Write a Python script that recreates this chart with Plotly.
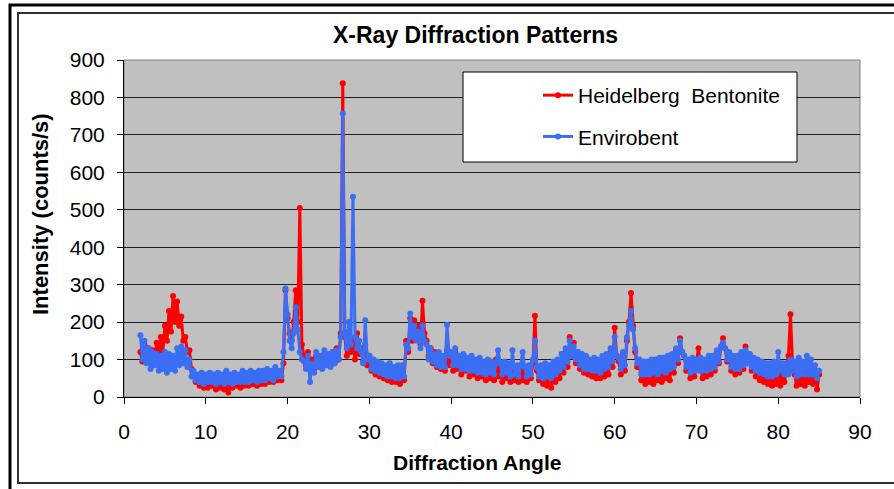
import plotly.graph_objects as go

# Diffraction angle grid: first angle and spacing (degrees)
ANGLE_START = 2.0
ANGLE_STEP = 0.25

# Heidelberg Bentonite intensities (counts/s), 4 readings per degree, 2.0 .. 85.0
heidelberg = [
    120, 95, 140, 105,    # 2
    130, 90, 125, 100,    # 3
    145, 110, 160, 120,   # 4
    190, 150, 230, 175,   # 5
    270, 200, 255, 190,   # 6
    215, 150, 160, 120,   # 7
    125, 75, 60, 40,      # 8
    45, 30, 50, 25,       # 9
    40, 25, 45, 30,       # 10
    40, 20, 45, 25,       # 11
    35, 20, 40, 12,       # 12
    40, 25, 45, 30,       # 13
    40, 25, 50, 30,       # 14
    45, 30, 50, 35,       # 15
    50, 30, 55, 35,       # 16
    50, 35, 60, 40,       # 17
    55, 40, 65, 45,       # 18
    50, 45, 90, 285,      # 19
    210, 170, 150, 200,   # 20
    285, 200, 505, 140,   # 21
    110, 85, 120, 90,     # 22
    100, 75, 110, 80,     # 23
    105, 80, 115, 85,     # 24
    110, 85, 120, 90,     # 25
    130, 100, 170, 838,   # 26
    160, 110, 175, 120,   # 27
    150, 100, 170, 115,   # 28
    130, 95, 140, 85,     # 29
    110, 70, 95, 60,      # 30
    90, 55, 85, 50,       # 31
    75, 45, 80, 40,       # 32
    70, 40, 75, 35,       # 33
    80, 45, 150, 120,     # 34
    210, 150, 205, 160,   # 35
    190, 140, 257, 170,   # 36
    150, 110, 130, 90,    # 37
    120, 80, 110, 75,     # 38
    105, 70, 125, 85,     # 39
    110, 70, 120, 75,     # 40
    100, 60, 110, 70,     # 41
    95, 55, 105, 60,      # 42
    90, 50, 95, 55,       # 43
    85, 45, 90, 50,       # 44
    85, 45, 100, 55,      # 45
    80, 40, 90, 50,       # 46
    80, 40, 85, 45,       # 47
    80, 40, 85, 45,       # 48
    75, 40, 80, 50,       # 49
    90, 217, 70, 45,      # 50
    75, 35, 80, 30,       # 51
    70, 25, 75, 40,       # 52
    85, 50, 100, 65,      # 53
    120, 80, 160, 110,    # 54
    145, 90, 120, 75,     # 55
    110, 65, 100, 60,     # 56
    95, 55, 90, 50,       # 57
    90, 50, 100, 55,      # 58
    100, 60, 120, 80,     # 59
    185, 110, 95, 60,     # 60
    110, 70, 150, 200,    # 61
    278, 190, 120, 80,    # 62
    90, 45, 80, 35,       # 63
    85, 40, 80, 35,       # 64
    90, 45, 85, 40,       # 65
    95, 50, 90, 45,       # 66
    110, 65, 125, 90,     # 67
    157, 120, 110, 70,    # 68
    90, 50, 95, 55,       # 69
    95, 130, 80, 50,      # 70
    90, 55, 95, 60,       # 71
    105, 70, 120, 90,     # 72
    135, 157, 130, 95,    # 73
    110, 70, 100, 60,     # 74
    105, 65, 115, 75,     # 75
    135, 90, 115, 70,     # 76
    100, 55, 90, 45,      # 77
    80, 40, 75, 35,       # 78
    70, 30, 75, 35,       # 79
    70, 30, 65, 40,       # 80
    70, 110, 221, 90,     # 81
    60, 30, 75, 35,       # 82
    70, 30, 80, 40,       # 83
    75, 35, 70, 20,       # 84
    60,                   # 85
]

# Envirobent intensities (counts/s), 4 readings per degree, 2.0 .. 85.0
envirobent = [
    165, 100, 150, 90,    # 2
    130, 75, 120, 85,     # 3
    115, 70, 110, 75,     # 4
    120, 65, 115, 75,     # 5
    110, 70, 130, 85,     # 6
    135, 90, 125, 80,     # 7
    100, 55, 70, 45,      # 8
    60, 40, 65, 35,       # 9
    60, 40, 65, 40,       # 10
    60, 35, 65, 40,       # 11
    60, 35, 70, 40,       # 12
    60, 35, 65, 40,       # 13
    60, 40, 70, 40,       # 14
    65, 40, 70, 45,       # 15
    65, 40, 70, 45,       # 16
    70, 45, 75, 50,       # 17
    70, 45, 80, 55,       # 18
    70, 55, 120, 290,     # 19
    220, 150, 130, 170,   # 20
    240, 180, 120, 100,   # 21
    95, 75, 110, 40,      # 22
    90, 65, 120, 80,      # 23
    110, 75, 125, 85,     # 24
    115, 80, 120, 90,     # 25
    125, 100, 160, 757,   # 26
    170, 130, 200, 140,   # 27
    535, 160, 130, 150,   # 28
    120, 90, 205, 100,    # 29
    110, 75, 100, 70,     # 30
    95, 65, 90, 60,       # 31
    85, 55, 90, 55,       # 32
    80, 50, 85, 50,       # 33
    85, 55, 140, 130,     # 34
    223, 160, 190, 150,   # 35
    175, 130, 190, 150,   # 36
    140, 100, 130, 95,    # 37
    115, 85, 120, 80,     # 38
    110, 80, 192, 110,    # 39
    120, 85, 130, 85,     # 40
    110, 75, 115, 75,     # 41
    105, 70, 110, 70,     # 42
    100, 65, 105, 65,     # 43
    95, 60, 100, 65,      # 44
    95, 60, 90, 125,      # 45
    90, 60, 95, 65,       # 46
    90, 55, 125, 60,      # 47
    85, 55, 85, 120,      # 48
    80, 55, 85, 60,       # 49
    100, 150, 80, 55,     # 50
    85, 50, 90, 55,       # 51
    85, 50, 95, 60,       # 52
    100, 70, 115, 80,     # 53
    130, 95, 150, 110,    # 54
    135, 100, 120, 85,    # 55
    115, 75, 110, 75,     # 56
    100, 70, 105, 70,     # 57
    100, 65, 110, 75,     # 58
    115, 80, 130, 95,     # 59
    160, 110, 105, 75,    # 60
    120, 85, 160, 190,    # 61
    230, 180, 130, 90,    # 62
    100, 60, 95, 60,      # 63
    95, 60, 100, 65,      # 64
    100, 60, 105, 70,     # 65
    105, 65, 110, 75,     # 66
    115, 80, 130, 100,    # 67
    150, 120, 110, 80,    # 68
    100, 65, 105, 70,     # 69
    100, 70, 105, 70,     # 70
    100, 70, 110, 75,     # 71
    110, 80, 125, 95,     # 72
    135, 145, 130, 100,   # 73
    120, 80, 110, 75,     # 74
    110, 75, 120, 85,     # 75
    125, 90, 115, 80,     # 76
    105, 70, 100, 65,     # 77
    95, 60, 90, 55,       # 78
    90, 55, 95, 60,       # 79
    120, 70, 90, 60,      # 80
    90, 60, 100, 70,      # 81
    95, 55, 105, 60,      # 82
    95, 60, 110, 60,      # 83
    100, 60, 85, 50,      # 84
    70,                   # 85
]

x_ticks = [0, 10, 20, 30, 40, 50, 60, 70, 80, 90]
y_ticks = [0, 100, 200, 300, 400, 500, 600, 700, 800, 900]

angles_h = [ANGLE_START + ANGLE_STEP * i for i in range(len(heidelberg))]
angles_e = [ANGLE_START + ANGLE_STEP * i for i in range(len(envirobent))]

FONT = "Liberation Sans, Arial, sans-serif"
W, H = 894, 489
L, R, T, B = 124, 860, 60, 397  # plot area pixel box


def px(xp):
    return (xp - L) / (R - L)


def py(yp):
    return (B - yp) / (B - T)


fig = go.Figure()
fig.add_trace(go.Scatter(
    x=angles_h, y=heidelberg, name="Heidelberg\u00a0 Bentonite",
    mode="lines+markers", legendgroup="h",
    line=dict(color="#FF0000", width=3),
    marker=dict(color="#FF0000", size=6),
))
fig.add_trace(go.Scatter(
    x=angles_e, y=envirobent, name="Envirobent",
    mode="lines+markers", legendgroup="e",
    line=dict(color="#3A6EF5", width=3),
    marker=dict(color="#3A6EF5", size=6),
))

shapes = [
    # outer thick frame
    dict(type="rect", xref="paper", yref="paper", x0=px(10), x1=px(905), y0=py(5), y1=py(500),
         line=dict(color="black", width=3), fillcolor="rgba(0,0,0,0)", layer="below"),
    # inner chart box
    dict(type="rect", xref="paper", yref="paper", x0=px(18), x1=px(905), y0=py(13), y1=py(483),
         line=dict(color="#303030", width=2), fillcolor="rgba(0,0,0,0)", layer="below"),
    # plot area border
    dict(type="rect", xref="paper", yref="paper", x0=0, x1=1, y0=0, y1=1,
         line=dict(color="#808080", width=1), fillcolor="rgba(0,0,0,0)", layer="below"),
    # legend box
    dict(type="rect", xref="paper", yref="paper", x0=px(463), x1=px(797), y0=py(72), y1=py(162),
         line=dict(color="black", width=1), fillcolor="white", layer="above"),
]

annotations = [
    dict(text="<b>X-Ray Diffraction Patterns</b>", xref="paper", yref="paper",
         x=px(475), y=py(35), showarrow=False, font=dict(size=23, color="black", family=FONT),
         xanchor="center", yanchor="middle"),
    dict(text="<b>Diffraction Angle</b>", xref="paper", yref="paper",
         x=px(477), y=py(462), showarrow=False, font=dict(size=21, color="black", family=FONT),
         xanchor="center", yanchor="middle"),
    dict(text="<b>Intensity (counts/s)</b>", xref="paper", yref="paper",
         x=px(40), y=py(214), showarrow=False, textangle=-90,
         font=dict(size=22, color="black", family=FONT),
         xanchor="center", yanchor="middle"),
]

fig.update_layout(
    width=W, height=H,
    margin=dict(l=L, r=W - R, t=T, b=H - B, pad=0),
    paper_bgcolor="white", plot_bgcolor="#C0C0C0",
    font=dict(family=FONT, size=21, color="black"),
    showlegend=True,
    legend=dict(x=px(538), y=py(75), xanchor="left", yanchor="top",
                bgcolor="rgba(0,0,0,0)", borderwidth=0,
                font=dict(size=21, family=FONT, color="black"),
                tracegroupgap=11, traceorder="grouped"),
    shapes=shapes, annotations=annotations,
    xaxis=dict(range=[0, 90], tickvals=x_ticks, ticks="outside", ticklen=6, tickwidth=1,
               tickcolor="black", showline=True, linecolor="black", linewidth=1,
               showgrid=False, zeroline=False, ticklabelstandoff=10,
               tickfont=dict(size=21, family=FONT, color="black")),
    yaxis=dict(range=[0, 900], tickvals=y_ticks, ticks="outside", ticklen=6, tickwidth=1,
               tickcolor="black", showline=True, linecolor="black", linewidth=1,
               showgrid=True, gridcolor="#202020", gridwidth=1, zeroline=False,
               ticklabelstandoff=8,
               tickfont=dict(size=21, family=FONT, color="black")),
)

fig.write_html("out.html", config={"displayModeBar": False},
               post_script="document.body.style.margin='0';")
